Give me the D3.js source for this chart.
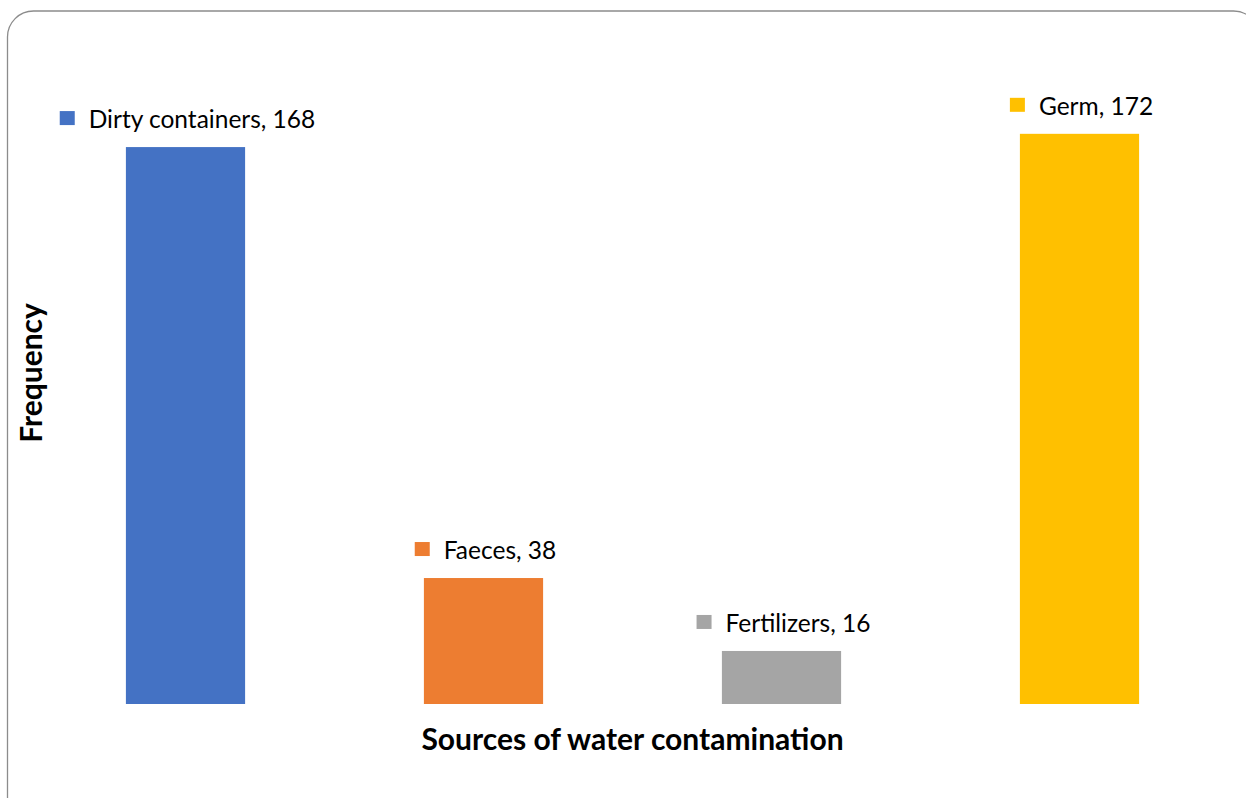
<!DOCTYPE html>
<html>
<head>
<meta charset="utf-8">
<script src="https://cdn.jsdelivr.net/npm/d3@7"></script>
<style>
  html, body { margin: 0; padding: 0; background: #fff; }
  svg { display: block; }
</style>
</head>
<body>
<svg id="chart" width="1246" height="798"></svg>
<script>
const categories = ["Dirty containers", "Faeces", "Fertilizers", "Germ"];
const values = [168, 38, 16, 172];
const colors = ["#4472C4", "#ED7D31", "#A5A5A5", "#FFC000"];
const xTitle = "Sources of water contamination";
const yTitle = "Frequency";

const svg = d3.select("#chart");
const font = "Lato, 'Open Sans', sans-serif";

// chart border (rounded frame)
svg.append("rect")
  .attr("x", 7.5).attr("y", 11)
  .attr("width", 1252).attr("height", 812)
  .attr("rx", 26).attr("ry", 26)
  .attr("fill", "#fff")
  .attr("stroke", "#8c8c8c")
  .attr("stroke-width", 1.3);

const x = d3.scaleBand()
  .domain(categories)
  .range([36.5, 1228.5])
  .paddingInner(0.6)
  .paddingOuter(0.3);

const y = d3.scaleLinear()
  .domain([0, 180])
  .range([704, 107.3]);

const data = categories.map((c, i) => ({ c, v: values[i], col: colors[i] }));

svg.append("g").selectAll("rect")
  .data(data).join("rect")
  .attr("x", d => x(d.c))
  .attr("y", d => y(d.v))
  .attr("width", x.bandwidth())
  .attr("height", d => y(0) - y(d.v))
  .attr("fill", d => d.col);

// data labels with legend keys
const lab = svg.append("g").selectAll("g")
  .data(data).join("g");

lab.each(function(d) {
  const g = d3.select(this);
  const t = g.append("text")
    .attr("font-family", font)
    .attr("font-size", 24.5)
    .attr("fill", "#000")
    .text(`${d.c}, ${d.v}`);
  const tw = t.node().getComputedTextLength();
  const keyW = 15, gap = 14;
  const total = keyW + gap + tw;
  const cx = x(d.c) + x.bandwidth() / 2 + 2;
  const left = cx - total / 2;
  const base = y(d.v) - 19;
  g.append("rect")
    .attr("x", left).attr("y", base - 17)
    .attr("width", keyW).attr("height", 14)
    .attr("fill", d.col);
  t.attr("x", left + keyW + gap).attr("y", base);
});

// axis titles
svg.append("text")
  .attr("x", (x.range()[0] + x.range()[1]) / 2)
  .attr("y", 750)
  .attr("text-anchor", "middle")
  .attr("font-family", font)
  .attr("font-weight", "bold")
  .attr("font-size", 30)
  .attr("fill", "#000")
  .text(xTitle);

svg.append("text")
  .attr("transform", "translate(42,373) rotate(-90)")
  .attr("text-anchor", "middle")
  .attr("font-family", font)
  .attr("font-weight", "bold")
  .attr("font-size", 30)
  .attr("fill", "#000")
  .text(yTitle);
</script>
</body>
</html>
